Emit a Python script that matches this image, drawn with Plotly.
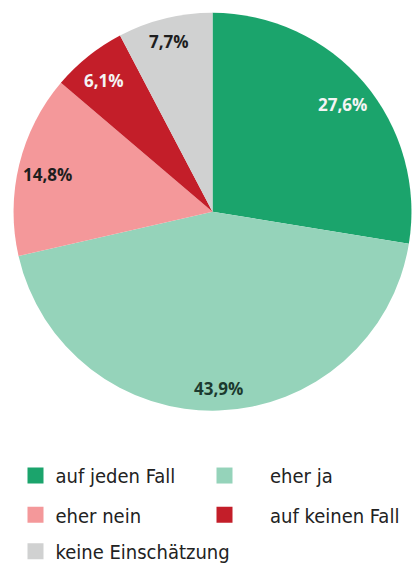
import math
import plotly.graph_objects as go

# ---- data ----
labels = ["auf jeden Fall", "eher ja", "eher nein", "auf keinen Fall", "keine Einschätzung"]
values = [27.6, 43.9, 14.8, 6.1, 7.7]

# ---- style ----
colors = ["#1ba46c", "#95d3ba", "#f4989a", "#c31e29", "#d0d1d1"]
label_colors = ["#f4f4f4", "#1c3a2f", "#1e1e1e", "#f4f4f4", "#1e1e1e"]
label_radius = [0.845, 0.88, 0.838, 0.855, 0.894]

W, H = 415, 571
px_left, px_right = 10, 415
px_top = 13
R = (px_right - px_left) / 2
CX = (px_left + px_right) / 2
CY = px_top + R

fig = go.Figure()
fig.add_trace(go.Pie(
    labels=labels, values=values, sort=False, direction="clockwise", rotation=0,
    marker=dict(colors=colors, line=dict(width=0)),
    textinfo="none", showlegend=False, hoverinfo="label+percent",
    domain=dict(x=[px_left / W, px_right / W], y=[1 - (CY + R) / H, 1 - (CY - R) / H]),
))

# value labels placed along each slice's mid angle
total = sum(values)
cum = 0
annotations = []
for v, c, rf in zip(values, label_colors, label_radius):
    mid = (cum + v / 2) / total * 2 * math.pi
    cum += v
    x = CX + rf * R * math.sin(mid)
    y = CY - rf * R * math.cos(mid)
    annotations.append(dict(
        x=x / W, y=1 - y / H, xref="paper", yref="paper", showarrow=False,
        text=f"<b>{v:.1f}%</b>".replace(".", ","),
        font=dict(family="Open Sans, Noto Sans, sans-serif", size=17, color=c),
        xanchor="center", yanchor="middle", yshift=-2,
    ))

# legend: one legend per entry (x start px, y centre px, item width)
leg_pos = [(15.5, 484, 30), (179, 484, 81), (15.5, 524, 30), (179, 524, 81), (15.5, 561, 30)]
leg_names = ["legend", "legend2", "legend3", "legend4", "legend5"]
layout_legends = {}
for name, lab, col, (lx, ly, iw) in zip(leg_names, labels, colors, leg_pos):
    fig.add_trace(go.Scatter(
        x=[None], y=[None], mode="markers", name=lab, legend=name,
        marker=dict(symbol="square", size=16, color=col),
    ))
    layout_legends[name] = dict(
        x=lx / W, y=1 - ly / H, xanchor="left", yanchor="middle",
        bgcolor="rgba(0,0,0,0)", borderwidth=0, itemwidth=iw,
        font=dict(family="Liberation Sans Narrow, DejaVu Sans Condensed, Roboto, sans-serif",
                  size=20, color="#222222"),
    )

fig.update_layout(
    width=W, height=H, margin=dict(l=0, r=0, t=0, b=0),
    paper_bgcolor="white", plot_bgcolor="white",
    xaxis=dict(visible=False), yaxis=dict(visible=False),
    annotations=annotations,
    **layout_legends,
)
fig.write_html(
    "out.html",
    config={"displayModeBar": False},
    post_script="document.body.style.margin='0';document.body.style.overflow='hidden';"
                "document.documentElement.style.overflow='hidden';",
)
